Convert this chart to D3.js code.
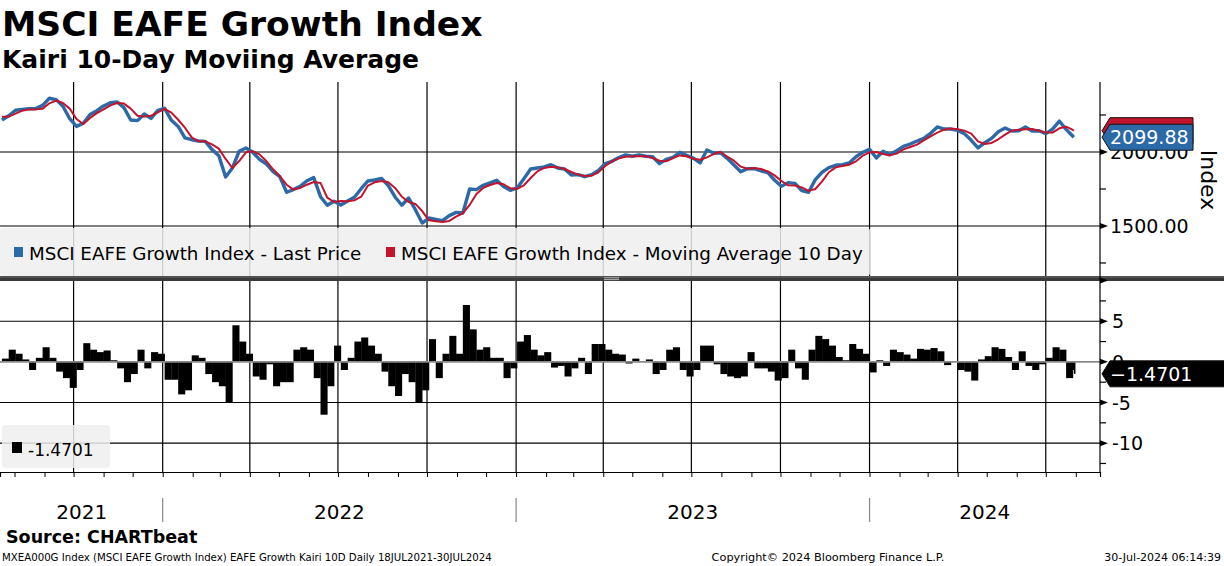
<!DOCTYPE html>
<html>
<head>
<meta charset="utf-8">
<script src="https://cdn.jsdelivr.net/npm/d3@7"></script>
<style>
  body { margin: 0; background: #fff; }
  svg { display: block; font-family: "DejaVu Sans", Verdana, sans-serif; }
</style>
</head>
<body>
<div id="chart"></div>
<script>
// weekly samples (Mondays), last point is the 30 Jul close
const dates = [
  "2021-07-19","2021-07-26","2021-08-02","2021-08-09","2021-08-16","2021-08-23","2021-08-30","2021-09-06","2021-09-13","2021-09-20","2021-09-27",
  "2021-10-04","2021-10-11","2021-10-18","2021-10-25","2021-11-01","2021-11-08","2021-11-15","2021-11-22","2021-11-29","2021-12-06","2021-12-13","2021-12-20","2021-12-27",
  "2022-01-03","2022-01-10","2022-01-17","2022-01-24","2022-01-31","2022-02-07","2022-02-14","2022-02-21","2022-02-28","2022-03-07","2022-03-14","2022-03-21","2022-03-28",
  "2022-04-04","2022-04-11","2022-04-18","2022-04-25","2022-05-02","2022-05-09","2022-05-16","2022-05-23","2022-05-30","2022-06-06","2022-06-13","2022-06-20","2022-06-27",
  "2022-07-04","2022-07-11","2022-07-18","2022-07-25","2022-08-01","2022-08-08","2022-08-15","2022-08-22","2022-08-29","2022-09-05","2022-09-12","2022-09-19","2022-09-26",
  "2022-10-03","2022-10-10","2022-10-17","2022-10-24","2022-10-31","2022-11-07","2022-11-14","2022-11-21","2022-11-28","2022-12-05","2022-12-12","2022-12-19","2022-12-26",
  "2023-01-02","2023-01-09","2023-01-16","2023-01-23","2023-01-30","2023-02-06","2023-02-13","2023-02-20","2023-02-27","2023-03-06","2023-03-13","2023-03-20","2023-03-27",
  "2023-04-03","2023-04-10","2023-04-17","2023-04-24","2023-05-01","2023-05-08","2023-05-15","2023-05-22","2023-05-29","2023-06-05","2023-06-12","2023-06-19","2023-06-26",
  "2023-07-03","2023-07-10","2023-07-17","2023-07-24","2023-07-31","2023-08-07","2023-08-14","2023-08-21","2023-08-28","2023-09-04","2023-09-11","2023-09-18","2023-09-25",
  "2023-10-02","2023-10-09","2023-10-16","2023-10-23","2023-10-30","2023-11-06","2023-11-13","2023-11-20","2023-11-27","2023-12-04","2023-12-11","2023-12-18","2023-12-25",
  "2024-01-01","2024-01-08","2024-01-15","2024-01-22","2024-01-29","2024-02-05","2024-02-12","2024-02-19","2024-02-26","2024-03-04","2024-03-11","2024-03-18","2024-03-25",
  "2024-04-01","2024-04-08","2024-04-15","2024-04-22","2024-04-29","2024-05-06","2024-05-13","2024-05-20","2024-05-27","2024-06-03","2024-06-10","2024-06-17","2024-06-24",
  "2024-07-01","2024-07-08","2024-07-15","2024-07-22","2024-07-29","2024-07-30"
];

const lastPrice = [
  2216, 2245, 2282, 2288, 2293, 2293, 2315, 2363, 2354, 2309,
  2225, 2173, 2194, 2254, 2279, 2311, 2333, 2338, 2300, 2216,
  2212, 2257, 2227, 2282, 2295, 2214, 2173, 2095, 2083, 2074,
  2072, 2016, 1975, 1831, 1892, 2005, 2027, 1998, 1950, 1919,
  1867, 1833, 1728, 1746, 1768, 1806, 1827, 1698, 1640, 1667,
  1642, 1669, 1694, 1752, 1804, 1811, 1822, 1773, 1696, 1640,
  1689, 1610, 1520, 1554, 1545, 1536, 1570, 1592, 1588, 1750,
  1746, 1775, 1791, 1809, 1766, 1741, 1757, 1820, 1885, 1892,
  1899, 1914, 1892, 1885, 1845, 1847, 1833, 1847, 1876, 1921,
  1937, 1962, 1980, 1971, 1980, 1971, 1968, 1921, 1950, 1964,
  1998, 1977, 1959, 1926, 2014, 1993, 1995, 1957, 1912, 1867,
  1887, 1887, 1872, 1860, 1809, 1768, 1793, 1788, 1739, 1728,
  1813, 1863, 1894, 1910, 1914, 1926, 1968, 1998, 2018, 1959,
  2005, 1982, 2009, 2038, 2054, 2074, 2092, 2126, 2169, 2155,
  2155, 2146, 2124, 2079, 2027, 2063, 2092, 2137, 2162, 2142,
  2144, 2169, 2142, 2144, 2124, 2155, 2209, 2153, 2106, 2099.88
];

const movingAvg = [
  2239, 2239, 2259, 2279, 2288, 2288, 2293, 2329, 2347, 2331,
  2293, 2223, 2189, 2230, 2263, 2288, 2315, 2331, 2327, 2293,
  2245, 2239, 2245, 2268, 2291, 2266, 2218, 2164, 2099, 2072,
  2072, 2052, 2023, 1953, 1892, 1939, 1998, 2005, 1984, 1939,
  1883, 1836, 1779, 1746, 1757, 1779, 1797, 1791, 1691, 1662,
  1669, 1667, 1673, 1698, 1773, 1795, 1804, 1795, 1757, 1698,
  1662, 1649, 1601, 1538, 1532, 1527, 1534, 1563, 1586, 1642,
  1716, 1757, 1777, 1791, 1782, 1755, 1750, 1775, 1824, 1869,
  1892, 1901, 1896, 1885, 1865, 1847, 1838, 1840, 1863, 1905,
  1937, 1957, 1968, 1971, 1971, 1971, 1959, 1941, 1937, 1959,
  1977, 1971, 1955, 1948, 1964, 1986, 2002, 1968, 1941, 1901,
  1887, 1892, 1885, 1869, 1842, 1804, 1775, 1773, 1761, 1737,
  1750, 1802, 1863, 1896, 1905, 1914, 1937, 1975, 1998, 2000,
  1986, 1977, 1989, 2018, 2034, 2050, 2079, 2106, 2131, 2151,
  2158, 2153, 2144, 2124, 2072, 2054, 2061, 2086, 2117, 2144,
  2151, 2153, 2155, 2144, 2131, 2131, 2160, 2171, 2149, 2144
];

const kairi = [
  0.4, 1.5, 1.0, 0.3, -1.0, 0.5, 1.8, 0.5, -1.2, -2.0,
  -3.2, -1.0, 2.3, 1.5, 1.2, 1.4, 0.2, -0.8, -2.5, -1.5,
  1.5, -0.8, 1.2, 1.0, -2.2, -2.2, -4.0, -3.5, 0.8, 0.5,
  -1.5, -2.5, -3.0, -5.0, 4.5, 2.5, 1.0, -1.8, -2.2, -0.3,
  -3.0, -2.5, -2.5, 1.5, 1.8, 1.5, -2.0, -6.5, -3.0, 2.0,
  -1.0, 0.5, 2.5, 3.0, 2.0, 1.0, -1.2, -3.0, -4.2, -1.5,
  -2.5, -5.0, -3.5, 2.8, -2.0, 1.0, 3.2, 1.0, 7.0, 4.0,
  1.5, 1.8, 0.5, 0.5, -2.0, -0.8, 2.5, 3.3, 1.5, 0.8,
  1.2, -0.7, -0.5, -1.8, -0.8, 0.5, -1.5, 2.2, 2.2, 1.5,
  1.0, 0.9, -0.2, 0.4, 0.1, 0.3, -1.5, -1.0, 1.5, 1.8,
  -1.0, -1.8, -1.0, 2.0, 2.0, -0.3, -1.5, -1.8, -2.0, -1.8,
  1.2, -0.8, -0.8, -1.2, -2.3, -2.0, 1.5, -0.8, -2.2, 1.5,
  3.2, 2.8, 2.0, 0.6, 0.2, 2.2, 1.6, 1.0, -1.3, 0.2,
  -0.5, 1.5, 1.2, 0.9, 0.4, 1.6, 1.5, 1.7, 1.3, -0.4,
  0.1, -1.0, -1.2, -2.3, 0.3, 0.7, 1.8, 1.6, 0.6, -1.0,
  1.3, -0.5, -1.0, -0.3, 0.5, 1.8, 1.5, -2.0, -1.0, -1.4701
];

const priceTicks = [1500, 2000];
const priceMinorTicks = [1250, 1750, 2250];
const kairiTicks = [5, 0, -5, -10];
const kairiMinorTicks = [7.5, 2.5, -2.5, -7.5, -12.5];
const years = ["2021", "2022", "2023", "2024"];

const W = 1224, H = 566;
const plotRight = 1100;
const parse = d3.timeParse("%Y-%m-%d");
const rows = dates.map((d, i) => ({
  date: parse(d), price: lastPrice[i], ma: movingAvg[i], kairi: kairi[i]
}));

const svg = d3.select("#chart").append("svg")
  .attr("width", W).attr("height", H);

const x = d3.scaleTime()
  .domain([new Date(2021, 6, 17), new Date(2024, 7, 26)])
  .range([0, plotRight]);

const yTop = d3.scaleLinear().domain([1162, 2473]).range([276, 82]);
const yBot = d3.scaleLinear().domain([-13.55, 9.95]).range([472, 281]);

// titles
svg.append("text").attr("x", 2).attr("y", 36)
  .style("font-size", "34.5px").style("font-weight", "bold")
  .text("MSCI EAFE Growth Index");
svg.append("text").attr("x", 2).attr("y", 68)
  .style("font-size", "25px").style("font-weight", "bold")
  .text("Kairi 10-Day Moviing Average");

// vertical quarter grid
const quarters = d3.timeMonths(new Date(2021, 9, 1), new Date(2024, 7, 2), 3);
svg.append("g").selectAll("line").data(quarters).enter().append("line")
  .attr("x1", d => x(d)).attr("x2", d => x(d))
  .attr("y1", 82).attr("y2", 472)
  .attr("stroke", "#000").attr("stroke-width", 1.2);

// horizontal grid
svg.append("g").selectAll("line").data(priceTicks).enter().append("line")
  .attr("x1", 0).attr("x2", plotRight)
  .attr("y1", d => yTop(d)).attr("y2", d => yTop(d))
  .attr("stroke", "#000").attr("stroke-width", 1.2);
svg.append("g").selectAll("line").data(kairiTicks.filter(d => d !== 0)).enter().append("line")
  .attr("x1", 0).attr("x2", plotRight)
  .attr("y1", d => yBot(d)).attr("y2", d => yBot(d))
  .attr("stroke", "#000").attr("stroke-width", 1.2);

// top panel lines
const linePrice = d3.line().x(d => x(d.date)).y(d => yTop(d.price));
const lineMa = d3.line().x(d => x(d.date)).y(d => yTop(d.ma));
svg.append("path").datum(rows).attr("d", linePrice)
  .attr("fill", "none").attr("stroke", "#2b69a7").attr("stroke-width", 3.4)
  .attr("stroke-linejoin", "round");
svg.append("path").datum(rows).attr("d", lineMa)
  .attr("fill", "none").attr("stroke", "#c3142d").attr("stroke-width", 2)
  .attr("stroke-linejoin", "round");

// top legend
svg.append("rect").attr("x", 0).attr("y", 228).attr("width", 870).attr("height", 48)
  .attr("rx", 3).attr("fill", "#efefef").attr("fill-opacity", 0.85);
const legendItems = [
  { label: "MSCI EAFE Growth Index - Last Price", color: "#2b69a7", x: 14 },
  { label: "MSCI EAFE Growth Index - Moving Average 10 Day", color: "#c3142d", x: 386 }
];
legendItems.forEach(it => {
  svg.append("rect").attr("x", it.x).attr("y", 247).attr("width", 9).attr("height", 10)
    .attr("fill", it.color);
  svg.append("text").attr("x", it.x + 15).attr("y", 260)
    .style("font-size", "18.3px").text(it.label);
});

// kairi bars
const bars = svg.append("g");
bars.selectAll("rect").data(rows).enter().append("rect")
  .attr("x", d => x(d.date))
  .attr("width", (d, i) => i < rows.length - 1 ? x(rows[i + 1].date) - x(d.date) + 0.3 : 1.6)
  .attr("y", d => Math.min(yBot(d.kairi), yBot(0)))
  .attr("height", d => Math.abs(yBot(d.kairi) - yBot(0)))
  .attr("fill", "#000");

// zero line
svg.append("line").attr("x1", 0).attr("x2", plotRight)
  .attr("y1", yBot(0)).attr("y2", yBot(0))
  .attr("stroke", "#8a8a8a").attr("stroke-width", 1.6);

// panel separator
svg.append("rect").attr("x", 0).attr("y", 276).attr("width", W).attr("height", 5)
  .attr("fill", "#3a3a3a");
svg.append("line").attr("x1", 0).attr("x2", W).attr("y1", 277).attr("y2", 277)
  .attr("stroke", "#6a6a6a").attr("stroke-width", 1);
[277.8, 279.6].forEach(yy => svg.append("line")
  .attr("x1", 604).attr("x2", 619).attr("y1", yy).attr("y2", yy)
  .attr("stroke", "#bdbdbd").attr("stroke-width", 0.9));

// bottom legend
svg.append("rect").attr("x", 2).attr("y", 425).attr("width", 108).attr("height", 43)
  .attr("rx", 4).attr("fill", "#efefef").attr("fill-opacity", 0.85);
svg.append("rect").attr("x", 12).attr("y", 442).attr("width", 10).attr("height", 11).attr("fill", "#000");
svg.append("text").attr("x", 28).attr("y", 456).style("font-size", "17px").text("-1.4701");

// x axis with monthly ticks
const xAxis = svg.append("g").attr("transform", "translate(0,472)")
  .call(d3.axisBottom(x).ticks(d3.timeMonth.every(1)).tickSize(5).tickFormat(""));
xAxis.select(".domain").attr("stroke", "#000").attr("stroke-width", 1.2);
xAxis.selectAll(".tick line").attr("stroke", "#000");

// year separators and labels
const yearStarts = [new Date(2022, 0, 1), new Date(2023, 0, 1), new Date(2024, 0, 1)];
svg.append("g").selectAll("line").data(yearStarts).enter().append("line")
  .attr("x1", d => x(d)).attr("x2", d => x(d))
  .attr("y1", 498).attr("y2", 522)
  .attr("stroke", "#888").attr("stroke-width", 1.2);
const bounds = [x(new Date(2021, 6, 18))].concat(yearStarts.map(x), [plotRight]);
svg.append("g").selectAll("text").data(years).enter().append("text")
  .attr("x", (d, i) => (bounds[i] + bounds[i + 1]) / 2)
  .attr("y", 519).attr("text-anchor", "middle")
  .style("font-size", "20px").text(d => d);

// right axis
svg.append("line").attr("x1", plotRight).attr("x2", plotRight).attr("y1", 82).attr("y2", 472)
  .attr("stroke", "#000").attr("stroke-width", 1.2);
const arrow = (g, yy) => g.append("path")
  .attr("d", `M${plotRight},${yy - 3}L${plotRight + 8},${yy}L${plotRight},${yy + 3}Z`).attr("fill", "#000");
const minor = (g, yy) => g.append("line")
  .attr("x1", plotRight).attr("x2", plotRight + 6).attr("y1", yy).attr("y2", yy)
  .attr("stroke", "#000").attr("stroke-width", 1.2);

const axG = svg.append("g");
priceTicks.forEach(v => {
  arrow(axG, yTop(v));
  axG.append("text").attr("x", 1110).attr("y", yTop(v) + 7)
    .style("font-size", "19px").text(d3.format(".2f")(v));
});
priceMinorTicks.forEach(v => minor(axG, yTop(v)));
[10].concat(kairiTicks).forEach(v => arrow(axG, yBot(v)));
kairiTicks.forEach(v => {
  axG.append("text").attr("x", 1112).attr("y", yBot(v) + 7)
    .style("font-size", "19px").text(v < 0 ? "-" + Math.abs(v) : v);
});
kairiMinorTicks.forEach(v => minor(axG, yBot(v)));

svg.append("text")
  .attr("transform", `translate(1201,180) rotate(90)`)
  .attr("text-anchor", "middle")
  .style("font-size", "22px").text("Index");

// last value tags
const tag = (yc, x0, x1, fill, txt) => {
  const g = svg.append("g");
  g.append("path")
    .attr("d", `M${x0},${yc}L${x0 + 8},${yc - 13}L${x1},${yc - 13}L${x1},${yc + 13}L${x0 + 8},${yc + 13}Z`)
    .attr("fill", fill).attr("stroke", "#111").attr("stroke-width", 1);
  if (txt) g.append("text").attr("x", x0 + 8).attr("y", yc + 7)
    .attr("fill", "#fff").style("font-size", "19px").text(txt);
};
const lastRow = rows[rows.length - 1];
tag(yTop(lastRow.ma), 1102, 1193, "#c3142d", null);
tag(yTop(lastRow.price), 1102, 1193, "#2b69a7", d3.format(".2f")(lastRow.price));
tag(yBot(lastRow.kairi), 1102, 1226, "#000", d3.format(".4f")(lastRow.kairi));

// source and footer
svg.append("text").attr("x", 6).attr("y", 543)
  .style("font-size", "17.5px").style("font-weight", "bold").text("Source: CHARTbeat");
svg.append("text").attr("x", 2).attr("y", 561).style("font-size", "10.2px")
  .text("MXEA000G Index (MSCI EAFE Growth Index) EAFE Growth Kairi 10D  Daily 18JUL2021-30JUL2024");
svg.append("text").attr("x", 828).attr("y", 561).attr("text-anchor", "middle")
  .style("font-size", "11.3px").text("Copyright\u00a9 2024 Bloomberg Finance L.P.");
svg.append("text").attr("x", 1221).attr("y", 561).attr("text-anchor", "end")
  .style("font-size", "11px").text("30-Jul-2024 06:14:39");
</script>
</body>
</html>
